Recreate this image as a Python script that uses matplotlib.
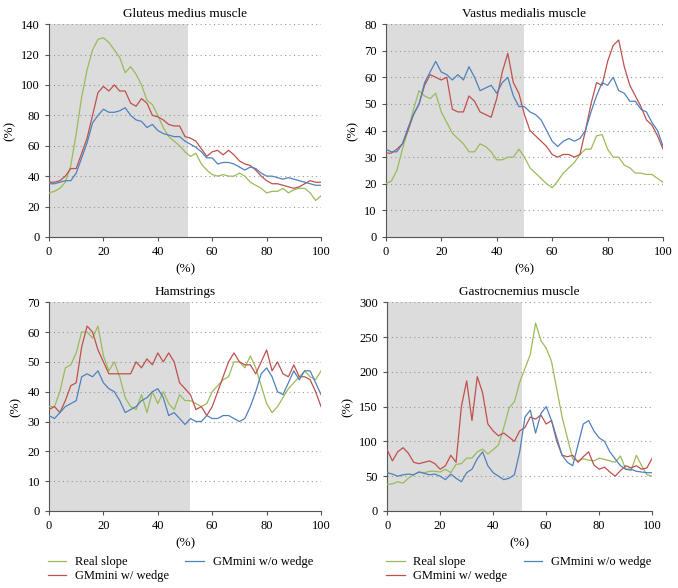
import numpy as np
import matplotlib
matplotlib.use("Agg")
import matplotlib.pyplot as plt

plt.rcParams['font.family'] = ['Liberation Serif', 'DejaVu Serif']

# gait cycle (%) sampled every 2 %
cycle = np.arange(0, 101, 2)

series_names = ["Real slope", "GMmini w/ wedge", "GMmini w/o wedge"]
series_colors = ["#9BBB59", "#C0504D", "#4F81BD"]

# Gluteus medius muscle
glut_real = [29, 30, 32, 36, 47, 68, 92, 110, 123, 130, 131, 128, 123, 118, 108, 112, 107, 100, 90, 87,
             80, 72, 66, 63, 60, 56, 53, 55, 48, 44, 41, 40, 41, 40, 40, 42, 40, 36, 34, 32,
             29, 30, 30, 32, 29, 31, 32, 32, 29, 24, 27]
glut_wedge = [36, 36, 37, 40, 45, 45, 55, 65, 80, 95, 99, 96, 100, 96, 96, 88, 86, 91, 88, 80,
              79, 77, 74, 73, 73, 66, 65, 63, 58, 53, 56, 57, 54, 57, 54, 50, 48, 47, 44, 40,
              37, 35, 35, 34, 33, 32, 33, 35, 37, 36, 36]
glut_nowedge = [35, 35, 36, 37, 37, 42, 52, 62, 75, 80, 84, 82, 82, 83, 85, 80, 77, 76, 72, 74,
                70, 68, 67, 66, 66, 63, 61, 59, 56, 52, 52, 48, 49, 49, 48, 46, 44, 46, 45, 42,
                40, 40, 39, 38, 39, 38, 37, 36, 35, 34, 34]

# Vastus medialis muscle
vast_real = [20, 21, 25, 33, 40, 48, 55, 53, 52, 54, 47, 43, 39, 37, 35, 32, 32, 35, 34, 32,
             29, 29, 30, 30, 33, 30, 26, 24, 22, 20, 18.5, 21, 24, 26, 28, 31, 33, 33, 38, 38.5,
             33, 30, 30, 27, 26, 24, 24, 23.5, 23.5, 22, 20.5]
vast_wedge = [31.5, 31.5, 33, 35, 40, 46, 50, 57, 61, 60, 59, 60, 48, 47, 47, 53, 51, 47, 46, 45,
              52, 62, 69, 58, 54, 46, 40, 38, 36, 34, 31, 30, 31, 31, 30, 31, 40, 50, 58, 57,
              66, 72, 74, 64, 57, 53, 49, 44, 42, 38, 33]
vast_nowedge = [33, 32, 32, 35, 41, 46, 50, 58, 62, 66, 62, 61, 59, 61, 59, 64, 60, 55, 56, 57,
                54, 58, 60, 53, 49, 49, 47, 46, 44, 40, 36, 34, 36, 37, 36, 37, 40, 47, 53, 58,
                57, 60, 55, 54, 51, 51, 48, 47, 43, 40, 34]

# Hamstrings
ham_real = [35, 35, 40, 48, 49, 53, 60, 60, 58, 62, 52, 47, 50, 45, 38, 35, 34, 39, 33, 40,
            36, 40, 36, 34, 39, 37, 37, 36, 35, 36, 40, 42, 44, 45, 50, 50, 48, 52, 48, 42,
            36, 33, 35, 38, 41, 43, 45, 47, 45, 44, 47]
ham_wedge = [34, 35, 33, 37, 42, 43, 55, 62, 60, 54, 50, 46, 46, 46, 46, 46, 50, 48, 51, 49,
             53, 50, 53, 50, 43, 41, 39, 34, 35, 32, 35, 40, 45, 50, 53, 50, 49, 49, 46, 50,
             54, 47, 50, 46, 45, 49, 45, 45, 44, 40, 35]
ham_nowedge = [32, 31, 33, 35, 36, 37, 45, 46, 45, 47, 43, 41, 40, 37, 33, 34, 35, 37, 38, 40,
               41, 38, 32, 33, 31, 29, 31, 30, 30, 32, 31, 31, 32, 32, 31, 30, 31, 35, 40, 46,
               48, 45, 40, 39, 43, 47, 44, 47, 47, 43, 39]

# Gastrocnemius muscle
gast_real = [38, 39, 42, 40, 47, 52, 56, 55, 57, 57, 56, 60, 55, 67, 68, 76, 76, 85, 89, 82,
             88, 95, 120, 148, 157, 185, 205, 225, 270, 245, 234, 215, 175, 135, 105, 75, 72, 75, 73, 72,
             76, 74, 72, 70, 79, 60, 58, 80, 65, 52, 50]
gast_wedge = [88, 72, 85, 91, 83, 70, 68, 70, 72, 68, 60, 65, 80, 70, 150, 187, 130, 193, 170, 125,
              115, 108, 112, 106, 100, 115, 120, 135, 132, 138, 125, 130, 100, 80, 78, 80, 70, 78, 85, 66,
              60, 63, 56, 50, 58, 65, 62, 65, 60, 62, 76]
gast_nowedge = [55, 53, 50, 52, 53, 52, 56, 54, 52, 53, 50, 45, 53, 47, 42, 55, 60, 75, 85, 65,
                55, 50, 45, 47, 52, 85, 135, 145, 112, 140, 150, 130, 105, 80, 70, 65, 95, 125, 130, 115,
                105, 100, 85, 75, 65, 60, 60, 57, 56, 55, 55]

panels = [
    ("Gluteus medius muscle", [glut_real, glut_wedge, glut_nowedge], 140, 20, 51),
    ("Vastus medialis muscle", [vast_real, vast_wedge, vast_nowedge], 80, 10, 50),
    ("Hamstrings", [ham_real, ham_wedge, ham_nowedge], 70, 10, 52),
    ("Gastrocnemius muscle", [gast_real, gast_wedge, gast_nowedge], 300, 50, 51),
]

# axes rectangles in figure fractions
rects = [
    [0.0723, 0.597, 0.4012, 0.362],
    [0.569, 0.597, 0.409, 0.362],
    [0.0723, 0.131, 0.4012, 0.355],
    [0.571, 0.131, 0.391, 0.355],
]

fig = plt.figure(figsize=(6.78, 5.88), dpi=100)

for (title, data, ymax, ystep, stance), rect in zip(panels, rects):
    ax = fig.add_axes(rect)
    ax.axvspan(0, stance, color="#DCDCDC", lw=0, zorder=0)
    for vals, name, col in zip(data, series_names, series_colors):
        ax.plot(cycle, vals, color=col, lw=0.9, label=name, zorder=3)
    ax.set_xlim(0, 100)
    ax.set_ylim(0, ymax)
    ax.set_xticks(np.arange(0, 101, 20))
    yt = np.arange(0, ymax + 1, ystep)
    ax.set_yticks(yt)
    for y in yt[1:]:
        ax.axhline(y, color="#999999", lw=0.8, ls=(0, (1, 3)), zorder=1)
    for s in ["top", "right"]:
        ax.spines[s].set_visible(False)
    for s in ["left", "bottom"]:
        ax.spines[s].set_color("#555555")
        ax.spines[s].set_linewidth(0.8)
    ax.tick_params(labelsize=9, length=3, width=0.8, color="#555555", direction="out")
    ax.set_title(title, fontsize=9.5, pad=5)
    ax.set_xlabel("(%)", fontsize=9.5, labelpad=4)
    ax.set_ylabel("(%)", fontsize=9.5, labelpad=4)
    if rect[1] < 0.5:
        ax.legend(loc="upper left", bbox_to_anchor=(rect[0] - 0.002, 0.054),
                  bbox_transform=fig.transFigure, ncol=2, frameon=False,
                  fontsize=9, handlelength=1.5, handletextpad=0.7,
                  columnspacing=1.3, labelspacing=0.15, borderaxespad=0, borderpad=0)

fig.savefig("out.png", dpi=100)
